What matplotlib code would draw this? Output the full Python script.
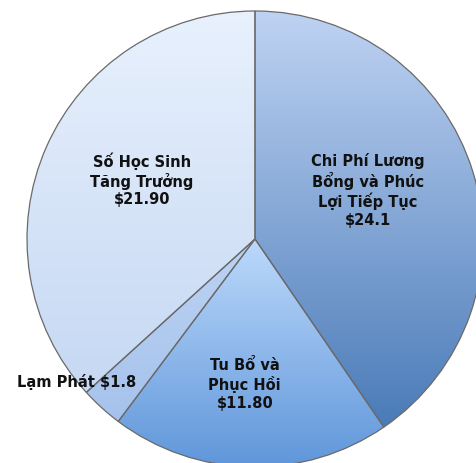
import numpy as np
import matplotlib
matplotlib.use("Agg")
import matplotlib.pyplot as plt
from matplotlib.colors import LinearSegmentedColormap, to_rgb

labels = ["Chi Phí Lương\nBổng và Phúc\nLợi Tiếp Tục\n$24.1",
          "Tu Bổ và\nPhục Hồi\n$11.80",
          "Lạm Phát $1.8",
          "Số Học Sinh\nTăng Trưởng\n$21.90"]
values = [24.1, 11.80, 1.8, 21.90]
top_colors = ["#bfd3f3", "#bcd9fb", "#bcd3f3", "#e8f1fd"]
bottom_colors = ["#4a7bb8", "#5f96da", "#a6c2ec", "#c6d8f3"]

W, H = 477, 463
fig = plt.figure(figsize=(W / 100, H / 100), dpi=100)
ax = fig.add_axes([0, 0, 1, 1])

cx, cy, R = 255, H - 239, 228
wedges, _ = ax.pie(values, center=(cx, cy), radius=R, startangle=90,
                   counterclock=False, frame=True,
                   wedgeprops=dict(edgecolor="none", linewidth=0))
ax.set_xlim(0, W)
ax.set_ylim(0, H)
ax.set_aspect("equal")
ax.axis("off")

for w, tc, bc in zip(wedges, top_colors, bottom_colors):
    verts = w.get_path().vertices
    x0, x1 = verts[:, 0].min(), verts[:, 0].max()
    y0, y1 = verts[:, 1].min(), verts[:, 1].max()
    cmap = LinearSegmentedColormap.from_list("g", [to_rgb(bc), to_rgb(tc)])
    grad = np.linspace(1, 0, 256).reshape(-1, 1)
    im = ax.imshow(grad, cmap=cmap, extent=[x0, x1, y0, y1], aspect="auto",
                   origin="upper", zorder=1, interpolation="bilinear")
    im.set_clip_path(w)
    w.set_facecolor("none")
    w.set_edgecolor("#6a6a6a")
    w.set_linewidth(0.9)
    w.set_zorder(2)

# label placement: (radial fraction, angle offset in degrees)
label_pos = [(0.54, 6.0), (0.64, -2.8), (1.0, -9.0), (0.56, -3.7)]
total = sum(values)
cum = 0
for w, lab, v, (rf, da) in zip(wedges, labels, values, label_pos):
    mid = 90 - (cum + v / 2) / total * 360 + da
    cum += v
    x = cx + rf * R * np.cos(np.radians(mid))
    y = cy + rf * R * np.sin(np.radians(mid))
    ax.text(x, y, lab, ha="center", va="center", fontsize=10.5,
            fontweight="bold", color="#111111", linespacing=1.2, zorder=3,
            family=["DejaVu Sans"])

fig.savefig("out.png", dpi=100)
